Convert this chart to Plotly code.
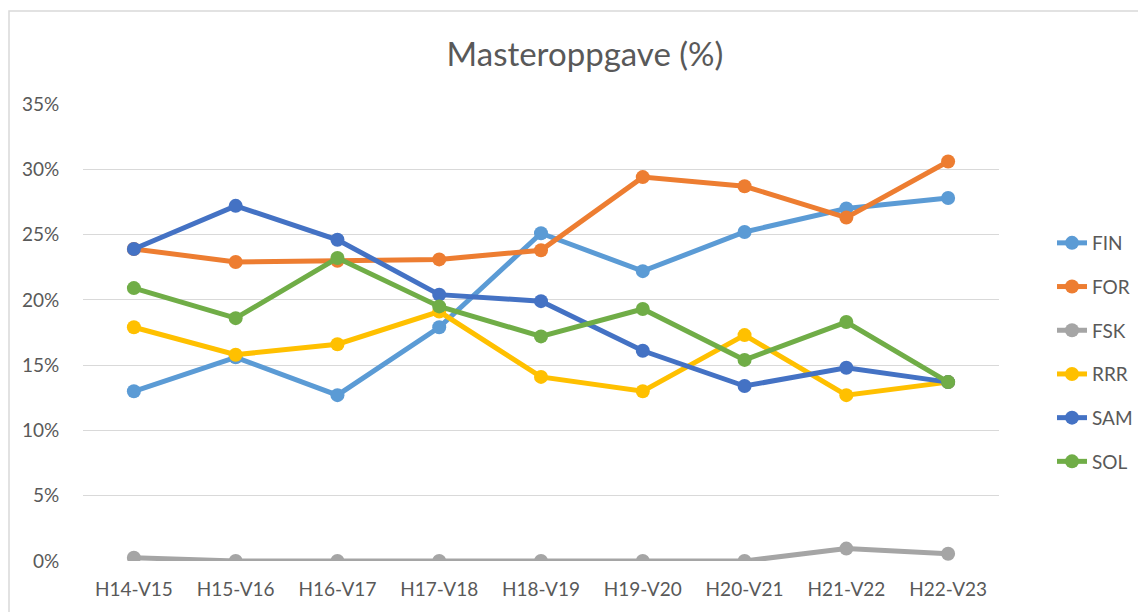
import plotly.graph_objects as go

categories = ["H14-V15", "H15-V16", "H16-V17", "H17-V18", "H18-V19",
              "H19-V20", "H20-V21", "H21-V22", "H22-V23"]

FIN = [0.130, 0.156, 0.127, 0.179, 0.251, 0.222, 0.252, 0.270, 0.278]
FOR = [0.239, 0.229, 0.230, 0.231, 0.238, 0.294, 0.287, 0.263, 0.306]
FSK = [0.0025, 0.0, 0.0, 0.0, 0.0, 0.0, 0.0, 0.0095, 0.0056]
RRR = [0.179, 0.158, 0.166, 0.191, 0.141, 0.130, 0.173, 0.127, 0.137]
SAM = [0.239, 0.272, 0.246, 0.204, 0.199, 0.161, 0.134, 0.148, 0.137]
SOL = [0.209, 0.186, 0.232, 0.195, 0.172, 0.193, 0.154, 0.183, 0.137]

series_names = ["FIN", "FOR", "FSK", "RRR", "SAM", "SOL"]
series_values = [FIN, FOR, FSK, RRR, SAM, SOL]
series_colors = ["#5B9BD5", "#ED7D31", "#A5A5A5", "#FFC000", "#4472C4", "#70AD47"]

W, H = 1146, 612
OFF = 8  # page body margin
# plot area in screen pixels
PX0, PX1, PY0, PY1 = 83, 999, 104, 561
ML = PX0 - OFF
MT = PY0 - OFF
MR = W - (PX1 - OFF)
MB = H - (PY1 - OFF)
FONT = "Lato"
TXT = "#595959"

fig = go.Figure()
for name, vals, col in zip(series_names, series_values, series_colors):
    fig.add_trace(go.Scatter(
        x=categories, y=vals, name=name, legendgroup=name,
        mode="lines+markers",
        line=dict(color=col, width=5),
        marker=dict(color=col, size=14, line=dict(width=0)),
    ))

pw = W - ML - MR
ph = H - MT - MB
def px2x(px):  # screen px -> paper x
    return (px - OFF - ML) / pw
def py2y(py):  # screen py -> paper y
    return (H - MB - (py - OFF)) / ph

fig.update_layout(
    width=W, height=H,
    margin=dict(l=ML, r=MR, t=MT, b=MB, autoexpand=False),
    paper_bgcolor="white", plot_bgcolor="white",
    font=dict(family=FONT, color=TXT, size=19),
    title=dict(text="Masteroppgave (%)", x=(585 - OFF) / W, xanchor="center",
               y=1 - (54 - OFF) / H, yanchor="middle",
               font=dict(family=FONT, size=33, color=TXT)),
    legend=dict(x=px2x(1052), xanchor="left", y=py2y(224), yanchor="top",
                font=dict(family=FONT, size=19, color=TXT),
                tracegroupgap=16, bgcolor="rgba(0,0,0,0)"),
    xaxis=dict(type="category", range=[-0.5, 8.5], showgrid=False,
               showline=False, zeroline=False, automargin=False,
               ticks="outside", ticklen=11, tickcolor="rgba(0,0,0,0)",
               tickfont=dict(family=FONT, size=19, color=TXT)),
    yaxis=dict(range=[0, 0.35], dtick=0.05, tickformat=".0%",
               showgrid=True, gridcolor="#D9D9D9", gridwidth=1.3,
               zeroline=False, showline=False, automargin=False,
               ticks="outside", ticklen=19, tickcolor="rgba(0,0,0,0)",
               tickfont=dict(family=FONT, size=19, color=TXT)),
    shapes=[dict(type="rect", xref="paper", yref="paper",
                 x0=px2x(9), x1=px2x(W + 40), y0=py2y(H + 40), y1=py2y(11),
                 line=dict(color="#D9D9D9", width=1.5), fillcolor="rgba(0,0,0,0)",
                 layer="below")],
)

fig.write_html("out.html")
